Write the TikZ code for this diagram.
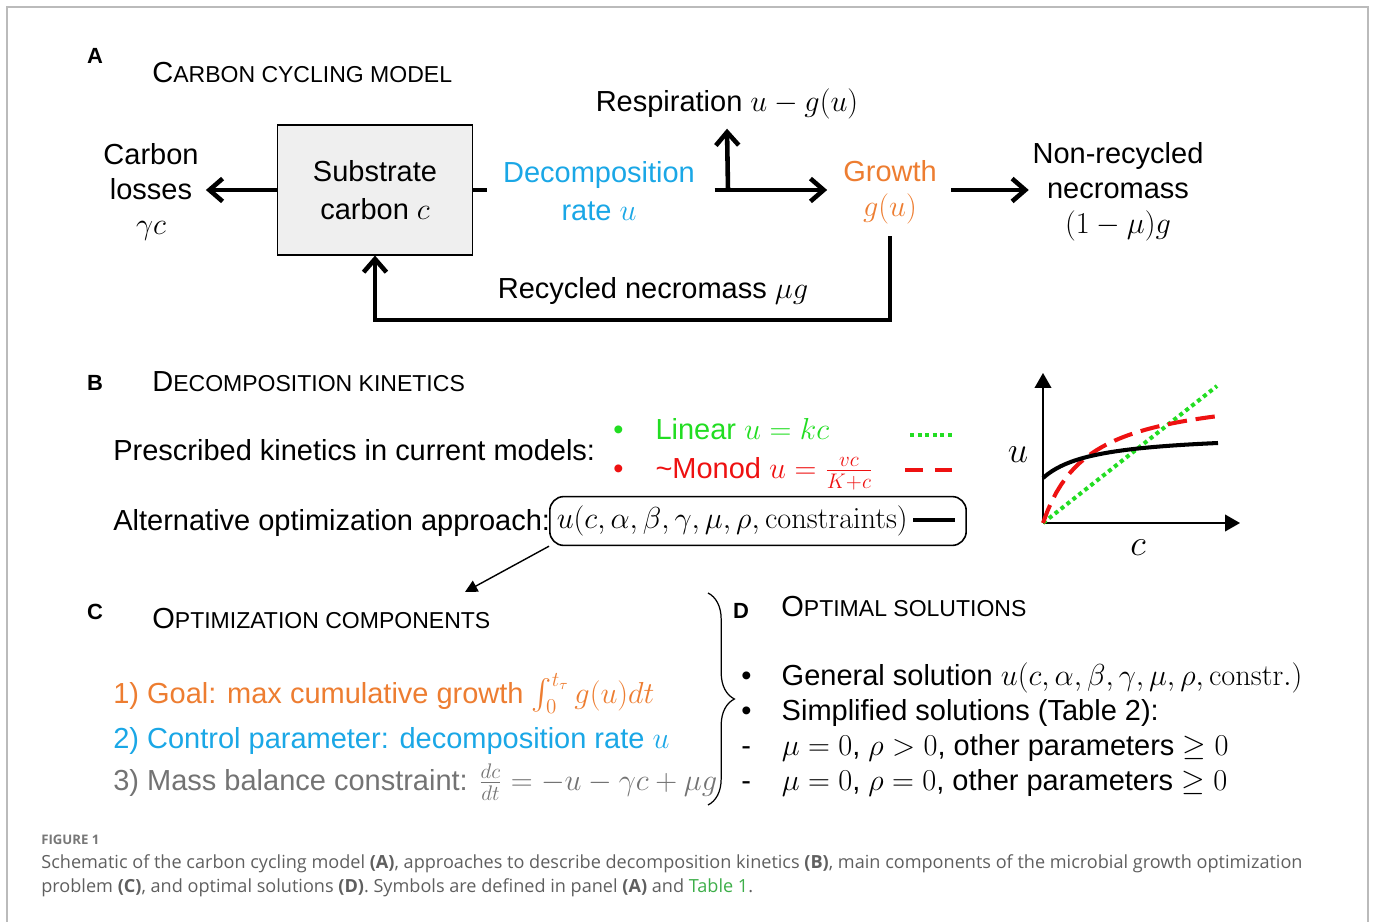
\documentclass[tikz,border=0pt]{standalone}
\usepackage{amsmath}
\usepackage[no-math]{fontspec}
\setmainfont{Liberation Sans}
\newfontfamily\capfont{Open Sans}
\usepackage{tikz}
\usetikzlibrary{arrows.meta,decorations.pathreplacing}

\definecolor{decblue}{HTML}{1AA7E6}
\definecolor{groorange}{HTML}{ED7D31}
\definecolor{lingreen}{HTML}{22DD22}
\definecolor{monred}{HTML}{EE1111}
\definecolor{cgray}{HTML}{737373}
\definecolor{boxgray}{HTML}{EFEFEF}
\definecolor{capgray}{HTML}{5F5F5F}
\definecolor{figgray}{HTML}{777777}
\definecolor{framegray}{HTML}{BBBBBB}
\definecolor{tabgreen}{HTML}{3DAE49}

\newcommand{\initcap}[1]{{\fontsize{16.5}{19}\selectfont #1}}

\begin{document}
\begin{tikzpicture}[x=0.02cm,y=-0.02cm]
\tikzstyle{txt}=[font=\fontsize{16.5}{19.8}\selectfont,inner sep=0pt];
\tikzstyle{multi}=[txt,align=center];
\tikzstyle{item}=[txt,anchor=base west];
\tikzstyle{ttl}=[font=\fontsize{13.1}{15}\selectfont,inner sep=0pt,anchor=base west];
\tikzstyle{tag}=[font=\fontsize{12.5}{14}\selectfont\bfseries,inner sep=0pt,anchor=base];
\tikzstyle{flow}=[->,>={Straight Barb[length=7.5pt,width=13pt]},line width=2.6pt];
\tikzstyle{axis}=[-{Triangle[length=8.5pt,width=9.5pt]},line width=0.9pt];
\tikzstyle{pointer}=[-{Triangle[length=7pt,width=7pt]},line width=0.8pt];
\tikzstyle{capt}=[font=\capfont\fontsize{10.3}{12}\selectfont,text=capgray,inner sep=0pt,anchor=base west];
\useasboundingbox (0,0) rectangle (1375,922);
\draw[framegray,line width=1.2pt] (7,922) -- (7,7) -- (1368,7) -- (1368,922);

% A: carbon cycling model
\node [tag] (ta) at (95,64) {A};
\node [ttl] (tita) at (152,83) {\initcap{C}ARBON CYCLING MODEL};
\node [multi,font=\fontsize{16.5}{21.5}\selectfont,draw,fill=boxgray,line width=0.9pt,minimum width=111pt,minimum height=73.7pt] (sub) at (375,190) {Substrate\\carbon $c$};
\node [multi] (loss) at (151,192) {Carbon\\losses\\$\gamma c$};
\node [multi,font=\fontsize{16.5}{21.5}\selectfont,text=decblue] (dec) at (599,191) {Decomposition\\rate $u$};
\node [txt,anchor=base] (resp) at (727,112) {Respiration $u-g(u)$};
\node [multi,text=groorange] (gro) at (890,192) {Growth\\$g(u)$};
\node [multi] (nrc) at (1118,192) {Non-recycled\\necromass\\$(1-\mu)g$};
\node [txt,anchor=base] (rec) at (653,298) {Recycled necromass $\mu g$};
\coordinate (stub) at (487,190);
\coordinate (br) at (728,190);
\coordinate (fb) at (890,320);
\draw [flow] (sub.west) -- ([xshift=4pt]loss.east |- sub.west);
\draw [line width=2.6pt] (sub.east) -- (stub);
\draw [flow] ([xshift=11pt]dec.east |- br) -- ([xshift=-9pt]gro.west |- br);
\draw [flow] (br) -- ([yshift=-5pt]resp.south);
\draw [flow] ([xshift=8pt]gro.east |- br) -- ([xshift=-2pt]nrc.west |- br);
\draw [flow] ([yshift=-7pt]gro.south) -- (fb) -| (sub.south);

% B: decomposition kinetics
\node [tag] (tb) at (95,390) {B};
\node [ttl] (titb) at (152,391) {\initcap{D}ECOMPOSITION KINETICS};
\node [item] (pres) at (113,460) {Prescribed kinetics in current models:};
\node [item,text=lingreen] (lin) at (613,439) {\makebox[24pt][l]{•}Linear $u=kc$};
\node [item,text=monred] (mon) at (613,478) {\makebox[24pt][l]{•}\textasciitilde Monod $u=\frac{vc}{K+c}$};
\node [item] (alt) at (113,530) {Alternative optimization approach:};
\node [txt,draw,rounded corners=8pt,line width=0.9pt,anchor=west,inner xsep=4pt,text width=229pt,minimum height=27.8pt,align=left] (opt) at (549,521) {$u(c,\alpha,\beta,\gamma,\mu,\rho,\mathrm{constraints})$};
\draw [lingreen,line width=2.3pt,dotted] (910,435) -- (955,435);
\draw [monred,line width=2.3pt,dash pattern=on 10pt off 7pt] (905,470) -- (955,470);
\draw [line width=2.3pt] (913,520) -- (955,520);
\coordinate (tipc) at (465,592);
\draw [pointer] (opt.south west) -- (tipc);

% u over c sketch
\coordinate (o) at (1043,523);
\draw [axis] (o) -- (1043,373);
\draw [axis] (o) -- (1240,523);
\node [txt,font=\fontsize{20}{24}\selectfont] (lu) at (1018,455) {$u$};
\node [txt,font=\fontsize{20}{24}\selectfont] (lc) at (1138,548) {$c$};
\draw [lingreen,line width=2.3pt,dotted] (o) -- (1217,386);
\draw [monred,line width=2.3pt,dash pattern=on 11pt off 5pt] plot[domain=0:175,samples=40] ({1043+\x},{523-\x*(134.8/(45.6+\x))});
\draw [line width=2.3pt] plot[domain=0:175,samples=40] ({1043+\x},{478-\x*(45/(50+\x))});

% C: optimization components
\node [tag] (tc) at (95,619) {C};
\node [ttl] (titc) at (152,628) {\initcap{O}PTIMIZATION COMPONENTS};
\node [item,text=groorange] (c1) at (113,703) {1) Goal: max cumulative growth $\int_0^{t_\tau} g(u)dt$};
\node [item,text=decblue] (c2) at (113,748) {2) Control parameter: decomposition rate $u$};
\node [item,text=cgray] (c3) at (113,790) {3) Mass balance constraint: $\frac{dc}{dt}=-u-\gamma c+\mu g$};
\draw [decorate,decoration={brace,amplitude=15pt},line width=0.7pt] (708,593) -- (708,805);

% D: optimal solutions
\node [tag] (td) at (741,618) {D};
\node [ttl] (titd) at (781,616) {\initcap{O}PTIMAL SOLUTIONS};
\node [item] (d1) at (741,685) {\makebox[23pt][l]{•}General solution $u(c,\alpha,\beta,\gamma,\mu,\rho,\mathrm{constr.})$};
\node [item] (d2) at (741,720) {\makebox[23pt][l]{•}Simplified solutions (Table 2):};
\node [item] (d3) at (741,755) {\makebox[23pt][l]{-}$\mu=0$, $\rho>0$, other parameters $\geq 0$};
\node [item] (d4) at (741,790) {\makebox[23pt][l]{-}$\mu=0$, $\rho=0$, other parameters $\geq 0$};

% caption
\node [capt,font=\capfont\fontsize{7.5}{9}\selectfont\bfseries,text=figgray] (fig) at (41,844) {FIGURE 1};
\node [capt] (cap1) at (41,868) {Schematic of the carbon cycling model \textbf{(A)}, approaches to describe decomposition kinetics \textbf{(B)}, main components of the microbial growth optimization};
\node [capt] (cap2) at (41,892) {problem \textbf{(C)}, and optimal solutions \textbf{(D)}. Symbols are defined in panel \textbf{(A)} and \textcolor{tabgreen}{Table 1}.};
\end{tikzpicture}
\end{document}
